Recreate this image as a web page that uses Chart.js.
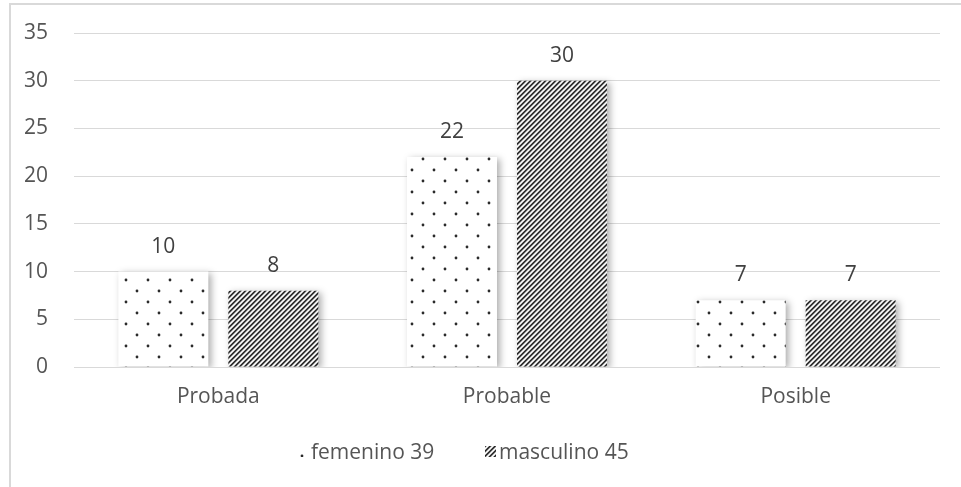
<!DOCTYPE html>
<html>
<head>
<meta charset="utf-8">
<script src="https://cdn.jsdelivr.net/npm/chart.js@4/dist/chart.umd.min.js"></script>
<style>
  html, body { margin: 0; padding: 0; background: #fff; }
  #wrap { width: 961px; height: 487px; position: relative; }
</style>
</head>
<body>
<div id="wrap"><canvas id="c" width="961" height="487"></canvas></div>
<script>
// Chart data
const categories = ['Probada', 'Probable', 'Posible'];
const femenino = [10, 22, 7];
const masculino = [8, 30, 7];
const seriesNames = ['femenino 39', 'masculino 45'];
const yTicks = [0, 5, 10, 15, 20, 25, 30, 35];

const FONT = '"Open Sans", sans-serif';
const FONT_SIZE = 21;
const TICK_COLOR = '#555555';
const LABEL_COLOR = '#404040';
const GRID_COLOR = '#d9d9d9';

// Dotted fill: staggered grid of small dark dots on white
function makeDotPattern() {
  const t = document.createElement('canvas');
  t.width = 22; t.height = 22;
  const g = t.getContext('2d');
  g.fillStyle = '#ffffff';
  g.fillRect(0, 0, 22, 22);
  g.fillStyle = '#2a2a2a';
  [[5, 5], [16, 16]].forEach(([x, y]) => {
    g.beginPath();
    g.arc(x, y, 1.4, 0, Math.PI * 2);
    g.fill();
  });
  return g.createPattern(t, 'repeat');
}

// Diagonal stripes rising left to right
function makeStripePattern() {
  const n = 5;
  const shades = [35, 75, 205, 255, 175];
  const t = document.createElement('canvas');
  t.width = n; t.height = n;
  const g = t.getContext('2d');
  const img = g.createImageData(n, n);
  for (let y = 0; y < n; y++) {
    for (let x = 0; x < n; x++) {
      const v = shades[(x + y) % n];
      const i = (y * n + x) * 4;
      img.data[i] = v; img.data[i + 1] = v; img.data[i + 2] = v; img.data[i + 3] = 255;
    }
  }
  g.putImageData(img, 0, 0);
  return g.createPattern(t, 'repeat');
}

const ctx = document.getElementById('c').getContext('2d');
const dotFill = makeDotPattern();
const stripeFill = makeStripePattern();

// Light frame along the top and left edges
const framePlugin = {
  id: 'frame',
  beforeDraw(chart) {
    const c = chart.ctx;
    c.save();
    c.strokeStyle = GRID_COLOR;
    c.lineWidth = 2;
    c.beginPath();
    c.moveTo(10, 487);
    c.lineTo(10, 4);
    c.lineTo(961, 4);
    c.stroke();
    c.restore();
  }
};

// Soft drop shadow under bars
const shadowPlugin = {
  id: 'barShadow',
  beforeDatasetsDraw(chart) {
    const c = chart.ctx;
    c.save();
    c.shadowColor = 'rgba(0,0,0,0.32)';
    c.shadowBlur = 7;
    c.shadowOffsetX = 3;
    c.shadowOffsetY = 2;
  },
  afterDatasetsDraw(chart) {
    chart.ctx.restore();
  }
};

// Value labels above each bar
const valueLabelPlugin = {
  id: 'valueLabels',
  afterDatasetsDraw(chart) {
    const c = chart.ctx;
    c.save();
    c.font = FONT_SIZE + 'px ' + FONT;
    c.fillStyle = LABEL_COLOR;
    c.textAlign = 'center';
    c.textBaseline = 'middle';
    chart.data.datasets.forEach((ds, di) => {
      const meta = chart.getDatasetMeta(di);
      meta.data.forEach((bar, i) => {
        c.fillText(String(ds.data[i]), bar.x, bar.y - 25);
      });
    });
    c.restore();
  }
};

// Legend with small pattern swatches
const legendPlugin = {
  id: 'patternLegend',
  afterDraw(chart) {
    const c = chart.ctx;
    const items = [
      { fill: dotFill, box: [297, 446, 10, 11], textX: 311 },
      { fill: stripeFill, box: [485, 446, 11, 11], textX: 499 }
    ];
    c.save();
    c.font = FONT_SIZE + 'px ' + FONT;
    c.fillStyle = TICK_COLOR;
    c.textBaseline = 'middle';
    c.textAlign = 'left';
    items.forEach((it, i) => {
      c.save();
      c.fillStyle = it.fill;
      c.fillRect(it.box[0], it.box[1], it.box[2], it.box[3]);
      c.restore();
      c.fillText(chart.data.datasets[i].label, it.textX, 453);
    });
    c.restore();
  }
};

new Chart(ctx, {
  type: 'bar',
  data: {
    labels: categories,
    datasets: [
      { label: seriesNames[0], data: femenino, backgroundColor: dotFill, borderWidth: 0 },
      { label: seriesNames[1], data: masculino, backgroundColor: stripeFill, borderWidth: 0 }
    ]
  },
  options: {
    responsive: false,
    animation: false,
    devicePixelRatio: 1,
    categoryPercentage: 0.762,
    barPercentage: 0.818,
    layout: { padding: { top: 33, right: 21, left: 0, bottom: 0 } },
    plugins: {
      legend: { display: false },
      tooltip: { enabled: false }
    },
    scales: {
      x: {
        grid: { display: false, drawTicks: false },
        border: { display: false },
        ticks: { color: TICK_COLOR, font: { family: FONT, size: FONT_SIZE }, padding: 17 },
        afterFit(scale) { scale.height = 120; }
      },
      y: {
        min: 0,
        max: 35,
        grid: { color: GRID_COLOR, lineWidth: 1, drawTicks: true, tickLength: 26, tickColor: 'rgba(0,0,0,0)' },
        border: { display: false },
        afterBuildTicks(scale) { scale.ticks = yTicks.map(v => ({ value: v })); },
        ticks: { color: TICK_COLOR, font: { family: FONT, size: FONT_SIZE }, padding: 0 },
        afterFit(scale) { scale.width = 74; }
      }
    }
  },
  plugins: [framePlugin, shadowPlugin, valueLabelPlugin, legendPlugin]
});
</script>
</body>
</html>
